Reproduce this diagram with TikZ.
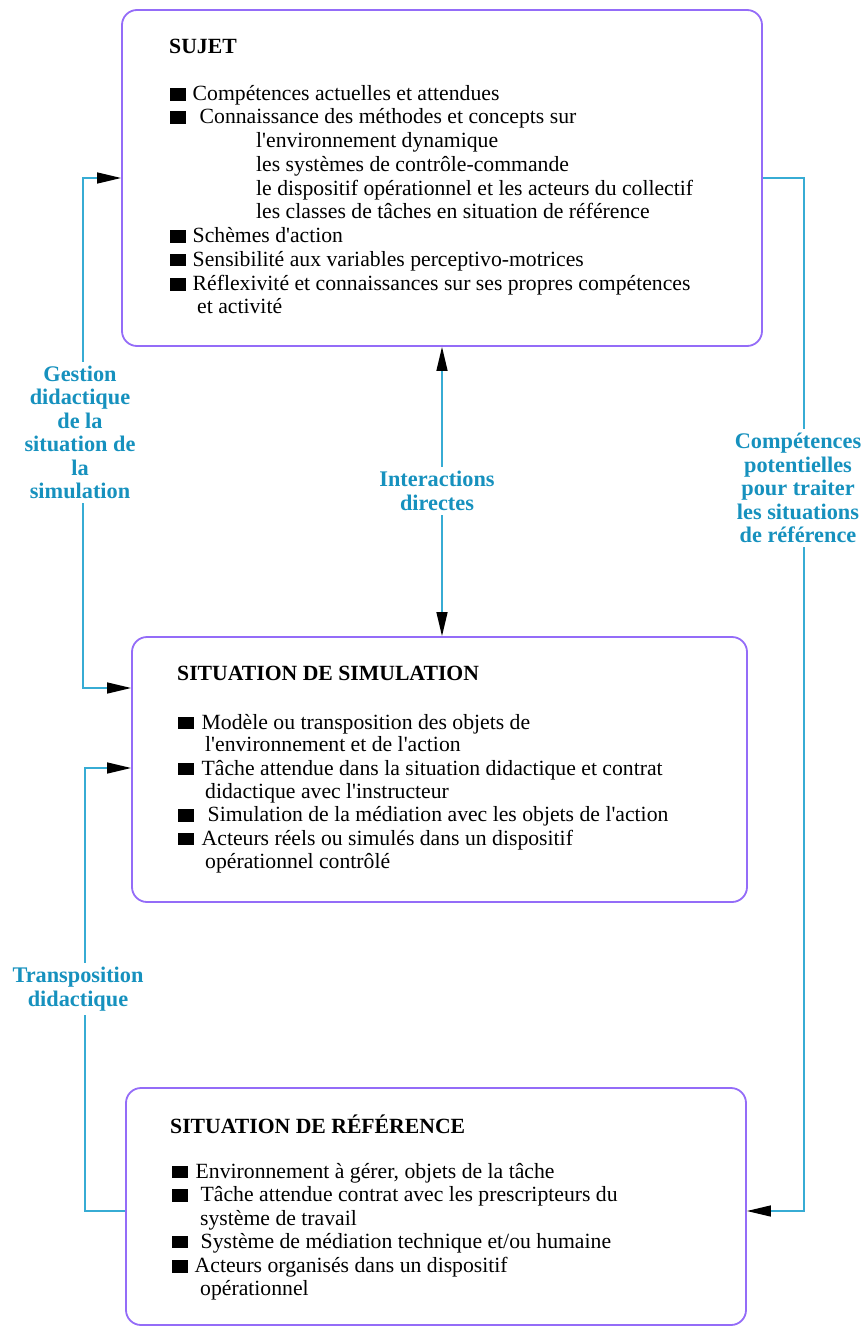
\documentclass[tikz,border=0pt]{standalone}
\usepackage{fontspec}
\setmainfont{Liberation Serif}[Ligatures=TeXReset]
\usetikzlibrary{arrows.meta}
\definecolor{boxc}{RGB}{148,108,248}
\definecolor{linec}{RGB}{55,172,212}
\definecolor{labc}{RGB}{22,145,190}
\newcommand\blt{\rule{15.5pt}{12.5pt}}
\begin{document}
\begin{tikzpicture}[x=1pt,y=-1pt,
  box/.style={draw=boxc, line width=1.8pt, rounded corners=15pt, inner sep=0pt},
  conn/.style={draw=linec, line width=1.4pt},
  tipa/.tip={Triangle[length=24pt,width=11pt,color=black]},
  body/.style={anchor=base west, inner sep=0pt, font=\fontsize{21.7}{23.5}\selectfont},
  ttl/.style={anchor=base west, inner sep=0pt, font=\fontsize{21.7}{23.5}\selectfont\bfseries},
  lab/.style={align=center, fill=white, text=labc, inner sep=4pt, font=\fontsize{22.3}{23.5}\selectfont\bfseries},
]
\useasboundingbox (0,0) rectangle (861,1327);
\fill[white] (0,0) rectangle (861,1327);

% boxes
\node[box, minimum width=640pt, minimum height=336pt] (sujet) at (442,178) {};
\node[box, minimum width=615pt, minimum height=265pt] (simu) at (439.5,769.5) {};
\node[box, minimum width=620pt, minimum height=237pt] (ref) at (436,1206.5) {};

% connectors
\draw[conn, tipa-tipa] (sujet.west) -- ++(-38,0) |- ([yshift=81.5pt]simu.west);
\draw[conn, -tipa] ([yshift=-4.5pt]ref.west) -- ++(-40,0) |- ([yshift=1.5pt]simu.west);
\draw[conn, -tipa] (sujet.east) -- ++(41,0) |- ([yshift=-4.5pt]ref.east);
\draw[conn, tipa-tipa] (sujet.south) -- (sujet.south |- simu.north);

% labels
\node[lab] (lgest) at (80,432.5) {Gestion\\didactique\\de la\\situation de\\la\\simulation};
\node[lab] (linter) at (437,491) {Interactions\\directes};
\node[lab] (lcomp) at (798,488) {Compétences\\potentielles\\pour traiter\\les situations\\de référence};
\node[lab] (ltrans) at (78,989) {Transposition\\didactique};

% SUJET
\node[ttl] (s0) at (169,53.3) {SUJET};
\node[body] (s1) at (170,101) {\blt\hspace{7pt}Compétences actuelles et attendues};
\node[body] (s2) at (170,124) {\blt\hspace{14pt}Connaissance des méthodes et concepts sur};
\node[body] (s3) at (256,147.7) {l'environnement dynamique};
\node[body] (s4) at (256,171) {les systèmes de contrôle-commande};
\node[body] (s5) at (256,195) {le dispositif opérationnel et les acteurs du collectif};
\node[body] (s6) at (256,218) {les classes de tâches en situation de référence};
\node[body] (s7) at (170,242.7) {\blt\hspace{7pt}Schèmes d'action};
\node[body] (s8) at (170,266) {\blt\hspace{7pt}Sensibilité aux variables perceptivo-motrices};
\node[body] (s9) at (170,290.7) {\blt\hspace{7pt}Réflexivité et connaissances sur ses propres compétences};
\node[body] (s10) at (197,313) {et activité};

% SITUATION DE SIMULATION
\node[ttl] (m0) at (177,680.5) {SITUATION DE SIMULATION};
\node[body] (m1) at (178,729) {\blt\hspace{8pt}Modèle ou transposition des objets de};
\node[body] (m2) at (205,751.7) {l'environnement et de l'action};
\node[body] (m3) at (178,775) {\blt\hspace{8pt}Tâche attendue dans la situation didactique et contrat};
\node[body] (m4) at (205,798) {didactique avec l'instructeur};
\node[body] (m5) at (178,821.7) {\blt\hspace{14pt}Simulation de la médiation avec les objets de l'action};
\node[body] (m6) at (178,845) {\blt\hspace{8pt}Acteurs réels ou simulés dans un dispositif};
\node[body] (m7) at (205,868) {opérationnel contrôlé};

% SITUATION DE REFERENCE
\node[ttl] (r0) at (170,1133.5) {SITUATION DE RÉFÉRENCE};
\node[body] (r1) at (172,1178) {\blt\hspace{8pt}Environnement à gérer, objets de la tâche};
\node[body] (r2) at (172,1201.7) {\blt\hspace{13pt}Tâche attendue contrat avec les prescripteurs du};
\node[body] (r3) at (200,1225) {système de travail};
\node[body] (r4) at (172,1248) {\blt\hspace{13pt}Système de médiation technique et/ou humaine};
\node[body] (r5) at (172,1272.7) {\blt\hspace{7pt}Acteurs organisés dans un dispositif};
\node[body] (r6) at (200,1295) {opérationnel};
\end{tikzpicture}
\end{document}
